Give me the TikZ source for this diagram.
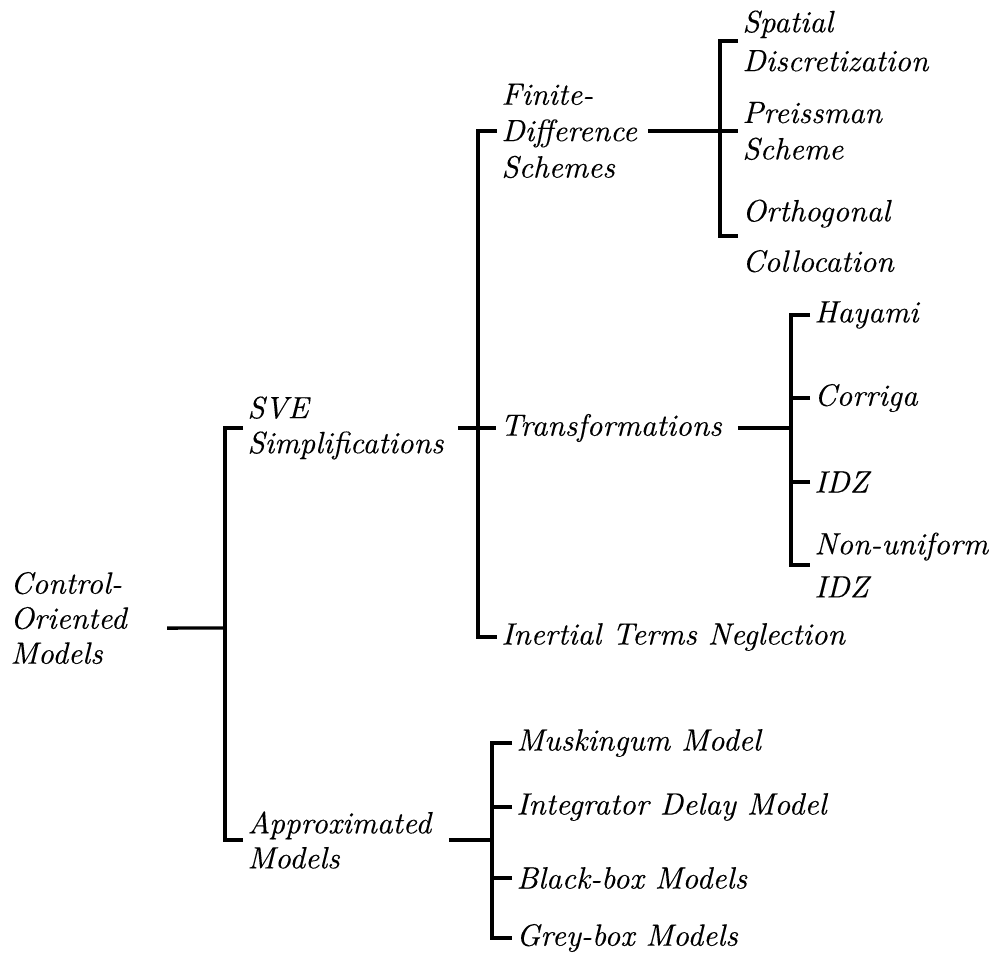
\documentclass[tikz,border=0pt]{standalone}
\usepackage{fontspec}
\newfontfamily\labelfont{lmroman10-italic.otf}[FakeBold=0.2]
\begin{document}
\begin{tikzpicture}[x=0.3571pt,y=-0.3571pt,
  lbl/.style={anchor=west,inner xsep=1.4pt,inner ysep=0pt,align=left,
    font=\labelfont\fontsize{11}{12.5}\selectfont},
  edge/.style={line width=1.2pt}]
\useasboundingbox (0,0) rectangle (989,956);

% root
\node[lbl,text width=54.3pt] (root) at (6,618) {Control-\\Oriented\\Models};

% first level
\node[lbl,text width=73.6pt] (sve) at (243,428) {SVE\\Simplifications};
\node[lbl,text width=70.3pt] (approx) at (243,840) {Approximated\\Models};

% SVE simplifications
\node[lbl,text width=50.7pt] (fds) at (497,131) {Finite-\\[0.5pt]Difference\\[0.5pt]Schemes};
\node[lbl,text width=83.2pt] (trans) at (496,428) {Transformations};
\node[lbl] (inert) at (497,637) {Inertial Terms Neglection};

% finite-difference schemes
\node[lbl] (sd) at (738,41) {Spatial\\[1.4pt]Discretization};
\node[lbl] (ps) at (738,131) {Preissman\\[0.5pt]Scheme};
\node[lbl] (oc) at (738,236) {Orthogonal\\[5.5pt]Collocation};

% transformations
\node[lbl] (hay) at (810,315) {Hayami};
\node[lbl] (cor) at (810,398) {Corriga};
\node[lbl] (idz) at (810,482) {IDZ};
\node[lbl] (nuidz) at (810,565) {Non-uniform\\[2.9pt]IDZ};

% approximated models
\node[lbl] (musk) at (512,743) {Muskingum Model};
\node[lbl] (integ) at (512,807) {Integrator Delay Model};
\node[lbl] (black) at (512,878) {Black-box Models};
\node[lbl] (grey) at (512,938) {Grey-box Models};

% fork points
\coordinate (f1) at (225,628);
\coordinate (f2) at (478,428);
\coordinate (f3) at (720,131);
\coordinate (f4) at (791,428);
\coordinate (f5) at (492,840);

% connectors
\draw[edge] ([yshift=-3.6pt]root.east) -- (f1);
\draw[edge] (sve.west) -| (f1) |- (approx.west);

\draw[edge] (sve.east) -- (f2) -- (trans.west);
\draw[edge] (fds.west) -| (f2) |- (inert.west);

\draw[edge] (fds.east) -- (ps.west);
\draw[edge] (sd.west) -| (f3) |- (oc.west);

\draw[edge] (trans.east) -- (f4);
\draw[edge] (hay.west) -| (f4) |- (nuidz.west);
\draw[edge] (cor.west) -- (cor.west -| f4);
\draw[edge] (idz.west) -- (idz.west -| f4);

\draw[edge] (approx.east) -- (f5);
\draw[edge] (musk.west) -| (f5) |- (grey.west);
\draw[edge] (integ.west) -- (integ.west -| f5);
\draw[edge] (black.west) -- (black.west -| f5);
\end{tikzpicture}
\end{document}
